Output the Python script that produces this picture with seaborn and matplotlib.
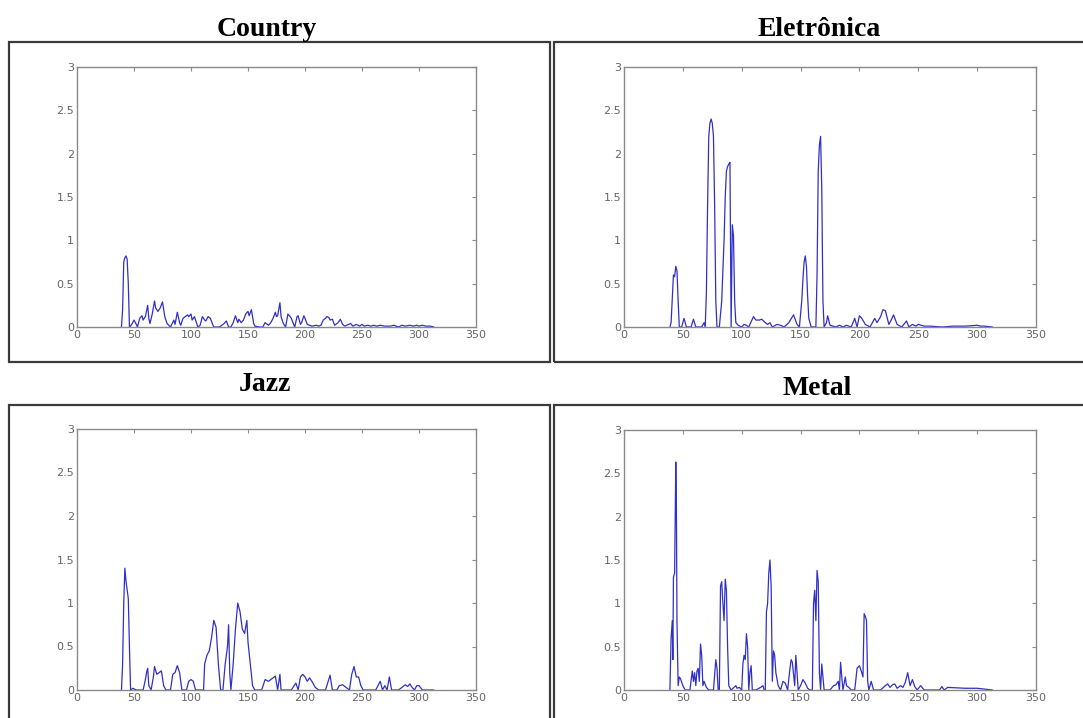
import matplotlib
matplotlib.use("Agg")
import matplotlib.pyplot as plt
from matplotlib.patches import Rectangle
import seaborn as sns

# ---- data (x = frame index, y = energy) ----
country_x = [39, 40, 41, 42, 43, 44, 45, 46, 48, 50, 52, 53, 55, 57, 58, 60, 62, 63, 64, 66, 68, 69,
             71, 73, 75, 77, 79, 82, 85, 86, 88, 90, 91, 93, 95, 97, 98, 100, 101, 103, 105, 106, 108,
             110, 112, 113, 115, 117, 119, 120, 125, 129, 131, 133, 135, 137, 139, 141, 142, 144, 146,
             148, 150, 151, 153, 155, 156, 160, 163, 165, 168, 170, 172, 174, 175, 176, 178, 179, 181,
             183, 185, 187, 188, 190, 191, 193, 194, 196, 197, 199, 200, 202, 206, 210, 212, 214, 216,
             218, 219, 221, 222, 224, 226, 229, 231, 233, 235, 238, 240, 242, 245, 248, 250, 252, 255,
             258, 260, 263, 266, 270, 275, 278, 282, 285, 288, 292, 295, 298, 300, 303, 306, 310, 313]
country_y = [0.0, 0.2, 0.75, 0.8, 0.82, 0.78, 0.5, 0.0, 0.03, 0.08, 0.03, 0.0, 0.1, 0.13, 0.08, 0.12,
             0.25, 0.1, 0.04, 0.15, 0.3, 0.22, 0.18, 0.22, 0.29, 0.12, 0.04, 0.0, 0.08, 0.03, 0.17,
             0.05, 0.02, 0.1, 0.12, 0.14, 0.12, 0.15, 0.08, 0.12, 0.04, 0.0, 0.02, 0.12, 0.08, 0.07,
             0.12, 0.1, 0.03, 0.0, 0.0, 0.04, 0.07, 0.0, 0.0, 0.05, 0.13, 0.05, 0.09, 0.05, 0.08, 0.15,
             0.18, 0.13, 0.2, 0.04, 0.01, 0.0, 0.0, 0.05, 0.02, 0.05, 0.1, 0.17, 0.12, 0.13, 0.28, 0.12,
             0.04, 0.0, 0.15, 0.12, 0.1, 0.03, 0.0, 0.12, 0.13, 0.03, 0.05, 0.13, 0.1, 0.03, 0.01, 0.02,
             0.01, 0.02, 0.08, 0.1, 0.12, 0.11, 0.08, 0.09, 0.02, 0.05, 0.09, 0.03, 0.01, 0.03, 0.04,
             0.01, 0.03, 0.01, 0.03, 0.01, 0.02, 0.01, 0.02, 0.01, 0.02, 0.01, 0.01, 0.02, 0.0, 0.02,
             0.01, 0.02, 0.01, 0.02, 0.01, 0.02, 0.01, 0.01, 0.0]

eletronica_x = [39, 40, 42, 43, 44, 45, 46, 47, 49, 51, 53, 57, 59, 61, 66, 68, 69, 70, 71, 72, 73,
                74, 75, 76, 77, 78, 79, 81, 83, 85, 86, 87, 88, 89, 90, 91, 92, 93, 94, 95, 97, 100,
                102, 104, 106, 110, 112, 115, 117, 120, 122, 124, 126, 130, 133, 136, 140, 144, 147,
                149, 151, 152, 153, 154, 155, 156, 157, 159, 163, 164, 165, 166, 167, 168, 169, 170,
                172, 173, 175, 180, 183, 186, 189, 193, 196, 198, 200, 202, 205, 209, 213, 215, 218,
                220, 222, 225, 227, 229, 232, 236, 240, 242, 245, 248, 250, 255, 260, 270, 280, 290,
                300, 303, 306, 313]
eletronica_y = [0.0, 0.05, 0.6, 0.58, 0.7, 0.65, 0.3, 0.0, 0.0, 0.1, 0.0, 0.0, 0.09, 0.0, 0.0, 0.05,
                0.0, 0.4, 1.4, 2.2, 2.35, 2.4, 2.35, 2.2, 1.4, 0.3, 0.0, 0.0, 0.3, 1.0, 1.5, 1.8, 1.85,
                1.88, 1.9, 0.0, 1.18, 1.05, 0.3, 0.05, 0.02, 0.0, 0.03, 0.02, 0.0, 0.12, 0.08, 0.08,
                0.09, 0.05, 0.03, 0.05, 0.0, 0.03, 0.02, 0.0, 0.05, 0.14, 0.03, 0.0, 0.3, 0.55, 0.75,
                0.82, 0.7, 0.35, 0.1, 0.0, 0.0, 0.6, 1.8, 2.1, 2.2, 1.6, 0.3, 0.0, 0.05, 0.13, 0.02,
                0.0, 0.02, 0.0, 0.02, 0.0, 0.1, 0.0, 0.13, 0.1, 0.03, 0.0, 0.1, 0.05, 0.12, 0.2, 0.19,
                0.03, 0.08, 0.14, 0.03, 0.0, 0.07, 0.0, 0.03, 0.01, 0.03, 0.01, 0.01, 0.0, 0.01, 0.01,
                0.02, 0.01, 0.01, 0.0]

jazz_x = [39, 40, 41, 42, 43, 44, 45, 46, 47, 49, 52, 58, 60, 61, 62, 63, 65, 67, 68, 70, 72, 74,
          76, 78, 82, 84, 86, 88, 90, 92, 96, 98, 100, 102, 104, 111, 112, 114, 116, 118, 120, 122,
          124, 126, 128, 130, 132, 133, 134, 135, 137, 139, 141, 143, 145, 147, 149, 150, 152, 154,
          156, 162, 165, 168, 171, 174, 176, 178, 179, 182, 188, 192, 194, 196, 198, 200, 202, 204,
          206, 209, 212, 218, 222, 224, 228, 230, 233, 236, 239, 241, 243, 245, 247, 249, 251, 262,
          266, 268, 270, 272, 274, 276, 282, 285, 288, 290, 292, 294, 296, 298, 300, 303, 313]
jazz_y = [0.0, 0.3, 1.0, 1.4, 1.25, 1.15, 1.05, 0.5, 0.0, 0.02, 0.0, 0.0, 0.12, 0.2, 0.25, 0.05, 0.0,
          0.15, 0.27, 0.18, 0.2, 0.22, 0.05, 0.0, 0.0, 0.18, 0.2, 0.28, 0.2, 0.0, 0.0, 0.1, 0.12, 0.1,
          0.0, 0.0, 0.3, 0.4, 0.45, 0.6, 0.8, 0.72, 0.3, 0.0, 0.0, 0.3, 0.5, 0.75, 0.2, 0.0, 0.3, 0.7,
          1.0, 0.9, 0.7, 0.65, 0.8, 0.55, 0.3, 0.05, 0.0, 0.0, 0.12, 0.1, 0.13, 0.16, 0.0, 0.18, 0.0,
          0.0, 0.0, 0.08, 0.0, 0.15, 0.18, 0.15, 0.1, 0.14, 0.1, 0.03, 0.0, 0.0, 0.17, 0.0, 0.0, 0.05,
          0.06, 0.03, 0.0, 0.18, 0.27, 0.15, 0.15, 0.05, 0.0, 0.0, 0.1, 0.0, 0.05, 0.0, 0.15, 0.0,
          0.0, 0.03, 0.06, 0.04, 0.07, 0.03, 0.0, 0.05, 0.05, 0.0, 0.0]

metal_x = [39, 40, 41, 41.5, 42, 43, 44, 44.5, 45, 46, 47, 48, 50, 52, 56, 58, 59, 60, 61, 62, 63,
           64, 65, 66, 67, 68, 70, 72, 76, 78, 79, 80, 81, 82, 83, 84, 85, 86, 87, 88, 89, 91, 95, 96,
           98, 100, 101, 102, 103, 104, 105, 106, 107, 108, 109, 112, 116, 118, 119, 120, 121, 122,
           123, 124, 125, 126, 127, 128, 129, 131, 133, 135, 137, 139, 141, 142, 143, 145, 146, 147,
           148, 150, 152, 154, 156, 158, 160, 161, 162, 163, 164, 165, 166, 167, 168, 169, 170, 175,
           178, 180, 182, 183, 184, 185, 186, 188, 189, 191, 193, 196, 198, 200, 202, 203, 204, 205,
           206, 207, 208, 210, 212, 218, 222, 224, 226, 228, 230, 232, 235, 237, 239, 241, 243, 245,
           247, 249, 252, 255, 268, 270, 272, 275, 290, 300, 313]
metal_y = [0.0, 0.6, 0.8, 0.35, 1.3, 1.35, 2.63, 2.15, 0.8, 0.05, 0.15, 0.13, 0.05, 0.0, 0.0, 0.22,
           0.1, 0.2, 0.05, 0.22, 0.25, 0.1, 0.53, 0.4, 0.05, 0.1, 0.03, 0.0, 0.0, 0.35, 0.25, 0.0,
           0.0, 1.2, 1.25, 1.0, 0.8, 1.28, 1.15, 0.5, 0.05, 0.0, 0.05, 0.02, 0.03, 0.0, 0.3, 0.4,
           0.35, 0.65, 0.5, 0.0, 0.2, 0.28, 0.0, 0.0, 0.03, 0.05, 0.0, 0.0, 0.9, 1.0, 1.35, 1.5, 1.2,
           0.1, 0.45, 0.4, 0.2, 0.05, 0.0, 0.1, 0.08, 0.0, 0.25, 0.35, 0.32, 0.05, 0.4, 0.2, 0.0,
           0.05, 0.12, 0.08, 0.02, 0.0, 0.0, 1.0, 1.15, 0.8, 1.38, 1.25, 0.2, 0.0, 0.3, 0.15, 0.0,
           0.0, 0.05, 0.06, 0.1, 0.0, 0.32, 0.15, 0.0, 0.15, 0.05, 0.03, 0.0, 0.0, 0.25, 0.28, 0.2,
           0.15, 0.88, 0.85, 0.8, 0.1, 0.0, 0.1, 0.0, 0.0, 0.05, 0.07, 0.03, 0.06, 0.07, 0.02, 0.05,
           0.03, 0.09, 0.2, 0.05, 0.12, 0.04, 0.0, 0.05, 0.0, 0.0, 0.04, 0.0, 0.03, 0.02, 0.02, 0.0]

titles = ["Country", "Eletrônica", "Jazz", "Metal"]
x_ticks = [0, 50, 100, 150, 200, 250, 300, 350]
y_ticks = [0, 0.5, 1, 1.5, 2, 2.5, 3]
y_tick_labels = ["0", "0.5", "1", "1.5", "2", "2.5", "3"]

W, H = 1083, 718
LINE = "#3030c8"
GRAY = "#8a8a8a"

sns.set_style("white")
plt.rcParams["font.family"] = ["DejaVu Sans"]

fig = plt.figure(figsize=(W / 100, H / 100), dpi=100)


def px_axes(left, top, right, bottom):
    return fig.add_axes([left / W, 1 - bottom / H, (right - left) / W, (bottom - top) / H])


def px_box(left, top, right, bottom):
    fig.add_artist(Rectangle((left / W, 1 - bottom / H), (right - left) / W, (bottom - top) / H,
                             transform=fig.transFigure, fill=False, edgecolor="#3a3a3a",
                             linewidth=1.6, clip_on=False))


# panel layout in pixels: box, axes, title centre/baseline
panels = [
    ((9, 42, 550, 362), (77, 67, 476, 327), (267, 36), country_x, country_y),
    ((554, 42, 1095, 362), (624, 67, 1036, 327), (819, 36), eletronica_x, eletronica_y),
    ((9, 405, 550, 730), (77, 429, 476, 690), (265, 391), jazz_x, jazz_y),
    ((554, 405, 1095, 730), (624, 430, 1036, 690), (817, 395), metal_x, metal_y),
]

for title, (box, axpos, tpos, xs, ys) in zip(titles, panels):
    px_box(*box)
    ax = px_axes(*axpos)
    sns.lineplot(x=xs, y=ys, ax=ax, color=LINE, linewidth=0.9, estimator=None)
    ax.set_xlim(0, 350)
    ax.set_ylim(0, 3)
    ax.set_xticks(x_ticks)
    ax.set_yticks(y_ticks)
    ax.set_yticklabels(y_tick_labels)
    ax.tick_params(direction="in", length=3, width=0.8, color=GRAY, labelcolor="#666666",
                   labelsize=8, top=True, right=True, pad=2)
    for s in ax.spines.values():
        s.set_color(GRAY)
        s.set_linewidth(1.0)
    fig.text(tpos[0] / W, 1 - tpos[1] / H, title, ha="center", va="baseline", color="black",
             fontsize=20, fontweight="bold", family=["Liberation Serif", "DejaVu Serif"])

fig.savefig("out.png", dpi=100)
